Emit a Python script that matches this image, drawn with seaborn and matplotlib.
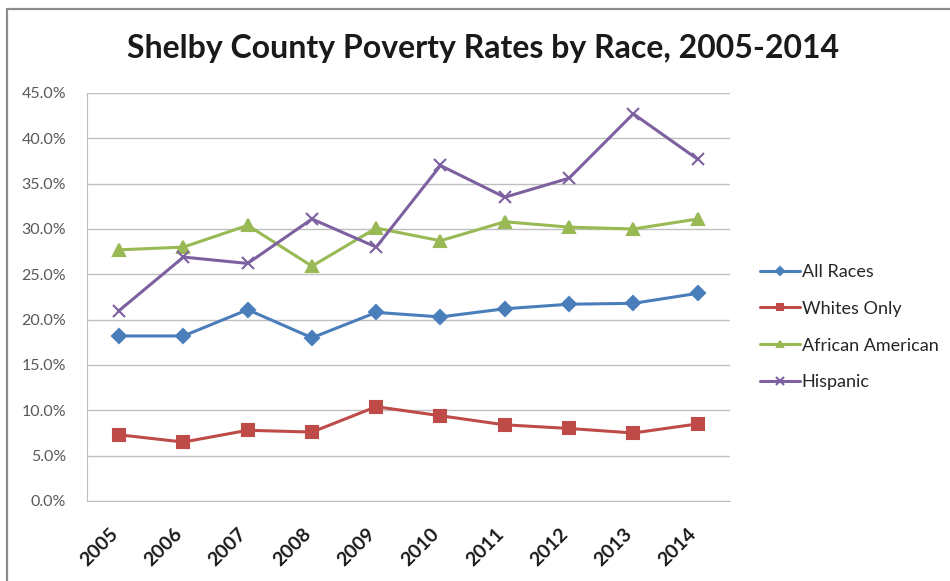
import numpy as np
import pandas as pd
import matplotlib.pyplot as plt
import seaborn as sns
from matplotlib.lines import Line2D
from matplotlib.ticker import FuncFormatter
from matplotlib.transforms import ScaledTranslation

years = ["2005", "2006", "2007", "2008", "2009", "2010", "2011", "2012", "2013", "2014"]
all_races = [18.2, 18.2, 21.1, 18.0, 20.8, 20.3, 21.2, 21.7, 21.8, 22.9]
whites_only = [7.3, 6.5, 7.8, 7.6, 10.4, 9.4, 8.4, 8.0, 7.5, 8.5]
african_american = [27.7, 28.0, 30.4, 25.9, 30.1, 28.7, 30.8, 30.2, 30.0, 31.1]
hispanic = [21.0, 26.9, 26.2, 31.1, 28.0, 37.0, 33.5, 35.6, 42.7, 37.7]

series = {"All Races": all_races, "Whites Only": whites_only, "African American": african_american, "Hispanic": hispanic}
farger = {"All Races": "#4A7EBB", "Whites Only": "#BE4B48", "African American": "#98B954", "Hispanic": "#7D60A0"}
markorer = {"All Races": "D", "Whites Only": "s", "African American": "^", "Hispanic": "x"}
storrelse = {"All Races": 7, "Whites Only": 8, "African American": 8, "Hispanic": 9}

sns.set_style("white")
plt.rcParams["font.family"] = ["Lato", "DejaVu Sans"]

fig = plt.figure(figsize = (9.5, 5.81), dpi = 100)
ax = fig.add_axes([0.0916, 0.1377, 0.6765, 0.7023])

# Ramme rundt figuren (bare topp og venstre er synlig i originalen)
fig.add_artist(Line2D([6.5 / 950, 1.0], [1 - 8.5 / 581] * 2, color = "#8C8C8C", linewidth = 1.6))
fig.add_artist(Line2D([6.5 / 950] * 2, [0.0, 1 - 8.5 / 581], color = "#8C8C8C", linewidth = 1.6))

x = np.arange(len(years))
for navn, verdier in series.items(): # en linje per gruppe, for å kunne blande fylte markører og x
    sns.lineplot(x = x, y = verdier, color = farger[navn], marker = markorer[navn], markersize = storrelse[navn],
                 markeredgecolor = farger[navn], markeredgewidth = 1.5, linewidth = 2.2, label = navn, ax = ax)

ax.set_xlim(-0.5, len(years) - 0.5)
ax.set_ylim(0, 45)
ax.set_yticks(np.arange(0, 46, 5))
ax.yaxis.set_major_formatter(FuncFormatter(lambda v, p: f"{v:.1f}%"))
ax.set_xticks(x)
ax.tick_params(axis = "y", labelsize = 11.5, colors = "#595959", length = 0, pad = 15)
ax.tick_params(axis = "x", length = 0, pad = 9)
ax.set_xticklabels(years, rotation = 45, ha = "right", rotation_mode = "anchor", fontweight = "bold", fontsize = 14, color = "#1A1A1A")
forskyv = ScaledTranslation(-10 / 100, -12 / 100, fig.dpi_scale_trans) # flytter årstallene litt til venstre og ned
for lbl in ax.get_xticklabels():
    lbl.set_transform(lbl.get_transform() + forskyv)
ax.grid(axis = "y", color = "#BFBFBF", linewidth = 1)
ax.set_axisbelow(True)
for side in ["top", "right"]:
    ax.spines[side].set_visible(False)
for side in ["left", "bottom"]:
    ax.spines[side].set_color("#BFBFBF")
ax.set_xlabel("")
ax.set_ylabel("")

fig.text(0.508, 1 - 58 / 581, "Shelby County Poverty Rates by Race, 2005-2014", ha = "center", va = "baseline",
         fontsize = 23, fontweight = "bold", color = "#1A1A1A")

ax.legend(loc = "center left", bbox_to_anchor = (1.036, 0.426), frameon = False, fontsize = 13, handlelength = 2.2,
          handletextpad = 0.1, labelspacing = 1.15, borderaxespad = 0, markerscale = 0.6)

fig.savefig("out.png", dpi = 100)
